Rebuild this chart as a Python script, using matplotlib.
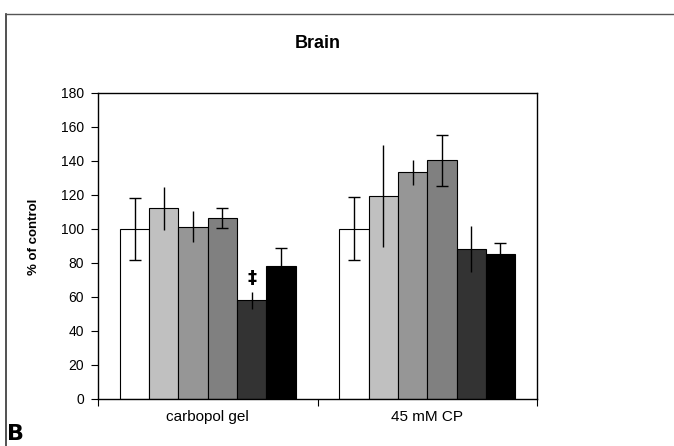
import matplotlib
matplotlib.use("Agg")
import matplotlib.pyplot as plt
import numpy as np
from matplotlib.lines import Line2D

plt.rcParams['font.family'] = ['Liberation Sans', 'DejaVu Sans']

categories = ["carbopol gel", "45 mM CP"]
series_values = [
    [100.0, 100.2],
    [112.2, 119.6],
    [101.4, 133.3],
    [106.5, 140.4],
    [58.0, 88.4],
    [78.2, 85.5],
]
series_errors = [
    [18.5, 18.5],
    [12.7, 30.0],
    [9.2, 7.5],
    [6.0, 15.0],
    [5.0, 13.5],
    [10.4, 6.0],
]
series_colors = ["#ffffff", "#c0c0c0", "#969696", "#808080", "#333333", "#000000"]
series_caps = [True, False, False, True, False, True]
yticks = [0, 20, 40, 60, 80, 100, 120, 140, 160, 180]

fig = plt.figure(figsize=(6.74, 4.46), dpi=100)
ax = fig.add_axes([98/674, 1-399/446, 439/674, 306/446])

n = len(series_values)
group_w = 0.8
bw = group_w / n
x = np.arange(len(categories))
for i in range(n):
    pos = x - group_w/2 + bw*(i + 0.5)
    ax.bar(pos, series_values[i], width=bw, color=series_colors[i],
           edgecolor="black", linewidth=0.8, zorder=2)
    ax.errorbar(pos, series_values[i], yerr=series_errors[i], fmt="none",
                ecolor="black", elinewidth=1.0,
                capsize=4 if series_caps[i] else 0, capthick=1.0, zorder=3)

# significance marker above 5th bar of first group
pos5 = x[0] - group_w/2 + bw*4.5
ax.text(pos5, series_values[4][0] + 13, "‡", ha="center", va="center",
        fontsize=13, fontweight="bold", family=['DejaVu Sans'], zorder=4)

ax.set_xlim(-0.5, len(categories) - 0.5)
ax.set_ylim(0, 180)
ax.set_yticks(yticks)
ax.set_yticklabels([str(t) for t in yticks], fontsize=10)
ax.set_xticks(x)
ax.set_xticklabels(categories, fontsize=11)
ax.set_xticks(np.arange(-0.5, len(categories), 1.0), minor=True)
ax.tick_params(axis="x", which="major", length=0, pad=8)
ax.tick_params(axis="x", which="minor", length=5, width=0.8, direction="out")
ax.tick_params(axis="y", length=5, width=0.8, direction="out", pad=5)
for s in ax.spines.values():
    s.set_linewidth(1.0)
    s.set_color("black")

ax.set_ylabel("% of control", fontsize=9.5, fontweight="bold")
ax.yaxis.set_label_coords((40 - 98) / 439, 0.53)

fig.text(317.5/674, 1-43/446, "Brain", ha="center", va="center",
         fontsize=13, fontweight="bold")

# outer frame lines
fig.add_artist(Line2D([6/674, 6/674], [0, 1-14/446], color="#333333", linewidth=1.2))
fig.add_artist(Line2D([6/674, 1], [1-14/446, 1-14/446], color="#555555", linewidth=1.0))

fig.text(7/674, 1-444/446, "B", ha="left", va="bottom", fontsize=16,
         fontweight="bold", family=['Liberation Sans Narrow', 'DejaVu Sans'])

fig.savefig("out.png", dpi=100)
